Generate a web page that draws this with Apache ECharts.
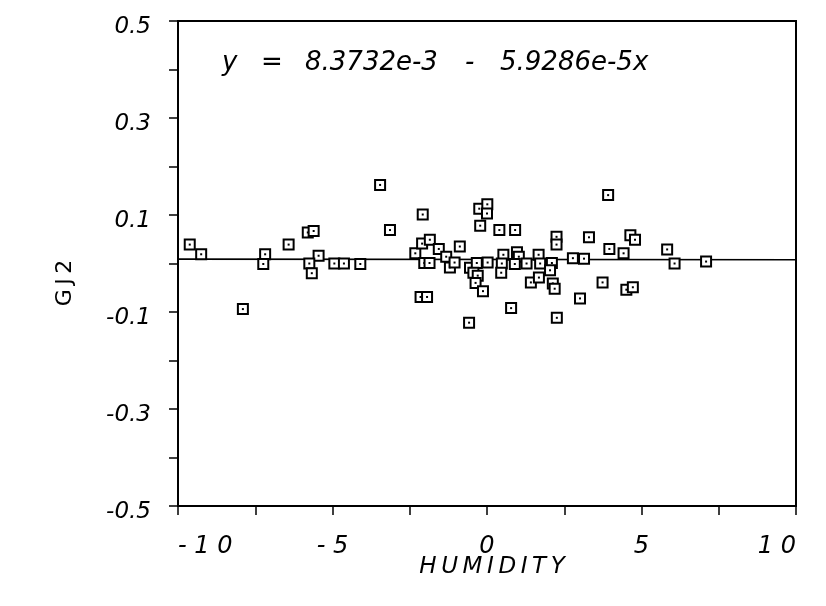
<!DOCTYPE html>
<html>
<head>
<meta charset="utf-8">
<script src="https://cdn.jsdelivr.net/npm/echarts@6/dist/echarts.min.js"></script>
<style>
  html, body { margin: 0; padding: 0; background: #fff; }
  #chart { width: 826px; height: 606px; }
</style>
</head>
<body>
<div id="chart"></div>
<script>
// Observations: humidity anomaly vs GJ2
const humidity = [
  -9.62, -9.25, -7.18, -7.24, -6.42, -5.80, -5.61, -7.90, -5.45, -5.75,
  -5.67, -4.94, -4.63, -4.10, -3.46, -3.14, -2.08, -2.32, -2.10, -1.85,
  -1.56, -1.32, -2.03, -1.86, -1.20, -1.05, -0.88, -2.15, -1.94, -0.58,
  -0.25, 0.01, 0.00, -0.22, -0.55, -0.33, 0.02, -0.44, -0.30, -0.37,
  -0.13, 0.40, 0.91, 2.25, 2.25, 3.30, 3.92, 4.64, 4.79, 3.96,
  4.42, 2.78, 3.14, 0.53, 0.48, 0.46, 0.97, 1.03, 0.90, 1.28,
  1.67, 1.72, 2.10, 2.04, 1.42, 1.68, 2.13, 2.19, 3.01, 3.74,
  4.51, 4.72, 0.78, 2.26, 5.83, 6.07, 7.09
];
const gj2 = [
  0.039, 0.019, 0.019, -0.001, 0.039, 0.064, 0.067, -0.094, 0.016, 0.000,
  -0.020, 0.000, 0.000, -0.001, 0.162, 0.069, 0.101, 0.021, 0.041, 0.049,
  0.030, 0.014, 0.001, 0.001, -0.008, 0.002, 0.035, -0.069, -0.069, -0.122,
  0.113, 0.122, 0.103, 0.078, -0.009, 0.001, 0.002, -0.019, -0.025, -0.040,
  -0.057, 0.069, 0.069, 0.055, 0.039, 0.054, 0.141, 0.058, 0.049, 0.030,
  0.021, 0.011, 0.010, 0.018, 0.000, -0.019, 0.023, 0.014, -0.001, 0.000,
  0.018, 0.000, 0.001, -0.014, -0.039, -0.029, -0.041, -0.052, -0.072, -0.039,
  -0.054, -0.049, -0.092, -0.112, 0.029, 0.000, 0.004
];

// Axis tick labels
const xTickLabels = [-10, -5, 0, 5, 10];
const yTickLabels = [0.5, 0.3, 0.1, -0.1, -0.3, -0.5];

// Least-squares fit coefficients
const INTERCEPT = 8.3732e-3;
const SLOPE = -5.9286e-5;
const xRange = [-10, 10];

const FONT = 'DejaVu Sans';
const THIN = '\u2009';
const points = humidity.map((x, i) => [x, gj2[i]]);
const fitLine = xRange.map(x => [x, INTERCEPT + SLOPE * x]);

// Fit equation, written piece by piece across the top of the plot
const eqParts = [
  { text: 'y', x: 222 },
  { text: '=', x: 261 },
  { text: INTERCEPT.toExponential(4), x: 305 },
  { text: SLOPE < 0 ? '-' : '+', x: 465 },
  { text: Math.abs(SLOPE).toExponential(4) + 'x', x: 500 }
];

const chart = echarts.init(document.getElementById('chart'), null, { renderer: 'canvas' });

chart.setOption({
  animation: false,
  backgroundColor: '#fff',
  grid: {
    left: 178, right: 30, top: 21, bottom: 100,
    show: true, borderColor: '#000', borderWidth: 2, backgroundColor: 'transparent'
  },
  xAxis: {
    type: 'value',
    min: -10, max: 10, interval: 2.5,
    axisLine: { show: true, onZero: false, lineStyle: { color: '#000', width: 2 } },
    axisTick: { show: true, inside: false, length: 9, lineStyle: { color: '#000', width: 1.5 } },
    splitLine: { show: false },
    axisLabel: {
      margin: 29,
      color: '#000',
      fontFamily: FONT, fontStyle: 'italic', fontSize: 24,
      alignMinLabel: 'left', alignMaxLabel: 'right',
      formatter: v => xTickLabels.some(t => Math.abs(t - v) < 1e-6)
        ? String(Math.round(v)).split('').join(' ') : ''
    }
  },
  yAxis: {
    type: 'value',
    min: -0.5, max: 0.5, interval: 0.1,
    axisLine: { show: true, onZero: false, lineStyle: { color: '#000', width: 2 } },
    axisTick: { show: true, inside: false, length: 9, lineStyle: { color: '#000', width: 1.5 } },
    splitLine: { show: false },
    axisLabel: {
      margin: 27,
      color: '#000',
      fontFamily: FONT, fontStyle: 'italic', fontSize: 23,
      verticalAlign: 'top', lineHeight: 12,
      formatter: v => yTickLabels.some(t => Math.abs(t - v) < 1e-6) ? v.toFixed(1) : ''
    }
  },
  graphic: [
    ...eqParts.map(p => ({
      type: 'text', x: p.x, y: 63,
      style: {
        text: p.text, fill: '#000', font: `italic 26px "${FONT}"`,
        textAlign: 'left', textVerticalAlign: 'middle'
      }
    })),
    {
      type: 'text', x: 492, y: 567,
      style: {
        text: 'HUMIDITY'.split('').join(THIN), fill: '#000', font: `italic 23px "${FONT}"`,
        textAlign: 'center', textVerticalAlign: 'middle'
      }
    },
    {
      type: 'text', x: 65, y: 283, rotation: Math.PI / 2,
      style: {
        text: 'GJ2'.split('').join(THIN), fill: '#000', font: `22px "${FONT}"`,
        textAlign: 'center', textVerticalAlign: 'middle'
      }
    }
  ],
  series: [
    {
      type: 'line',
      data: fitLine,
      symbol: 'none',
      z: 1,
      lineStyle: { color: '#000', width: 1.6 }
    },
    {
      type: 'custom',
      data: points,
      z: 3,
      renderItem: (params, api) => {
        const p = api.coord([api.value(0), api.value(1)]);
        return {
          type: 'group',
          children: [
            {
              type: 'rect',
              shape: { x: p[0] - 5, y: p[1] - 5, width: 10, height: 10 },
              style: { fill: '#fff', stroke: '#000', lineWidth: 2 }
            },
            {
              type: 'rect',
              shape: { x: p[0] - 1, y: p[1] - 1, width: 2, height: 2 },
              style: { fill: '#000' }
            }
          ]
        };
      }
    }
  ]
});
</script>
</body>
</html>
